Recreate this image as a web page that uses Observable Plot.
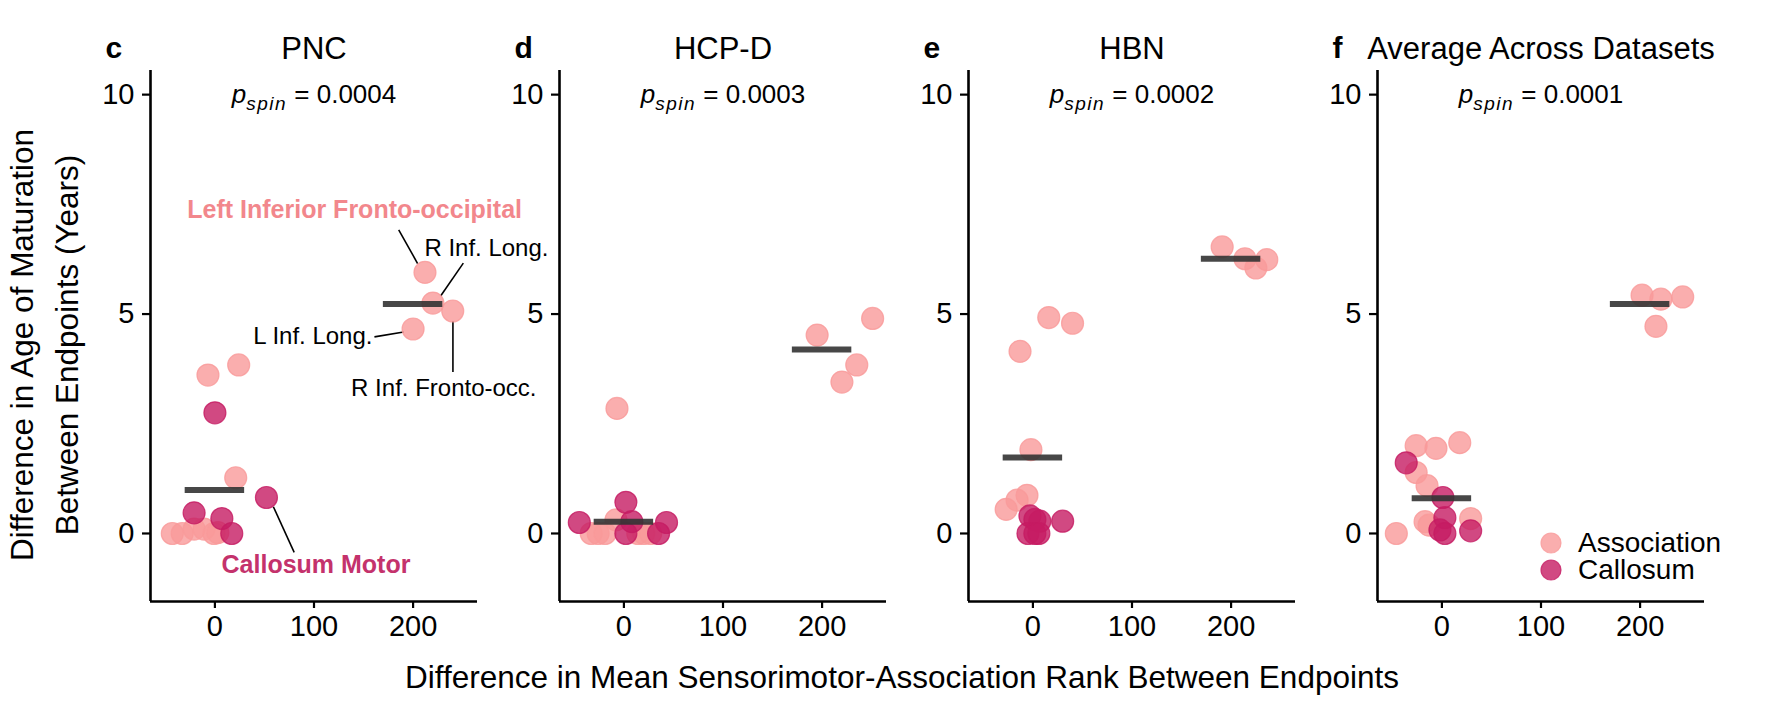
<!DOCTYPE html>
<html><head><meta charset="utf-8">
<script src="https://cdn.jsdelivr.net/npm/d3@7"></script>
<script src="https://cdn.jsdelivr.net/npm/@observablehq/plot@0.6"></script>
<style>
body{margin:0;background:#fff;}
#wrap{position:relative;width:1772px;height:709px;overflow:hidden;font-family:"Liberation Sans",Arial,Helvetica,sans-serif;color:#000;}
#wrap svg.panel{position:absolute;top:0;overflow:visible;}
#wrap g[aria-label^="x-axis"] path,#wrap g[aria-label^="x-axis"] line,
#wrap g[aria-label^="y-axis"] path,#wrap g[aria-label^="y-axis"] line{stroke-width:2.2px;}
.xtitle{position:absolute;left:302px;width:1200px;top:662px;text-align:center;font-size:31.5px;line-height:31.5px;white-space:nowrap;}
.ytitle{position:absolute;left:-255px;top:300px;width:600px;height:90px;line-height:45px;text-align:center;font-size:31.5px;transform:rotate(-90deg);white-space:nowrap;}
.legend{position:absolute;left:1540px;top:529px;font-size:28px;}
.legend .row{display:flex;align-items:center;height:27px;}
.legend .row span{display:inline-block;height:27px;line-height:27px;margin-left:16px;white-space:nowrap;}
</style></head>
<body><div id="wrap"></div>
<script>
// ---------- data ----------
const datasets = ["PNC", "HCP-D", "HBN", "Average Across Datasets"];
const panelLetters = ["c", "d", "e", "f"];
const pSpinValues = ["0.0004", "0.0003", "0.0002", "0.0001"];
const tractTypes = ["Association", "Callosum"];
const typeColors = ["#F99A9A", "#C51B63"];
const xTickValues = [0, 100, 200];
const yTickValues = [0, 5, 10];
const xAxisTitle = "Difference in Mean Sensorimotor-Association Rank Between Endpoints";
const yAxisTitle = ["Difference in Age of Maturation", "Between Endpoints (Years)"];

// [difference in S-A rank, difference in age of maturation]
const pncAssociation = [[212,5.95],[220,5.25],[240,5.07],[200,4.66],[-7,3.61],[24,3.84],[21,1.27],[-43,0],[-33,0],[-21,0.1],[-11,0.1],[-1,0],[3,0.02]];
const pncCallosum = [[0,2.75],[52,0.82],[-21,0.47],[7,0.34],[17,0]];
const pncMeans = [[0,0.99],[200,5.23]];

const hcpdAssociation = [[195,4.52],[251,4.9],[235,3.84],[220,3.45],[-7,2.85],[-8,0.31],[-33,0],[-26,0],[-19,0],[14,0],[20,0],[27,0]];
const hcpdCallosum = [[2,0.71],[-45,0.25],[43,0.25],[8,0.27],[2,0],[35,0]];
const hcpdMeans = [[0,0.27],[200,4.19]];

const hbnAssociation = [[191,6.53],[214,6.26],[225,6.05],[236,6.24],[16,4.92],[40,4.79],[-13,4.15],[-2,1.91],[-6,0.87],[-16,0.76],[-27,0.55]];
const hbnCallosum = [[-3,0.4],[7,0.28],[30,0.28],[2,0.32],[-5,0],[2,0],[6,0]];
const hbnMeans = [[0,1.73],[200,6.26]];

const avgAssociation = [[202,5.43],[221,5.34],[243,5.39],[216,4.72],[-26,2.0],[-6,1.94],[18,2.07],[-26,1.39],[-15,1.09],[-17,0.27],[-13,0.19],[29,0.34],[-46,0]];
const avgCallosum = [[-36,1.61],[1,0.82],[3,0.36],[-2,0.08],[3,0],[29,0.06]];
const avgMeans = [[0,0.8],[200,5.23]];

// PNC annotations (label anchor in data units) and leader lines [x1,y1,x2,y2]
const pncLabels = [
  {text: "Left Inferior Fronto-occipital", x: 141, y: 7.37, kind: "assoc"},
  {text: "R Inf. Long.", x: 274, y: 6.5, kind: "plain"},
  {text: "L Inf. Long.", x: 159, y: 4.5, kind: "plainEnd"},
  {text: "R Inf. Fronto-occ.", x: 231, y: 3.3, kind: "plain"},
  {text: "Callosum Motor", x: 102, y: -0.72, kind: "callosum"}
];
const pncLeaders = [[185.5,6.92,204.6,6.15],[250.7,6.16,227.8,5.41],[161,4.48,190.5,4.59],[240.2,4.84,240.2,3.68],[59,0.61,80,-0.43]];

const associationByPanel = [pncAssociation, hcpdAssociation, hbnAssociation, avgAssociation];
const callosumByPanel = [pncCallosum, hcpdCallosum, hbnCallosum, avgCallosum];
const meansByPanel = [pncMeans, hcpdMeans, hbnMeans, avgMeans];
const labelsByPanel = [pncLabels, [], [], []];
const leadersByPanel = [pncLeaders, [], [], []];

// ---------- layout ----------
const xDomain = [-65, 265];
const yDomain = [-1.55, 10.55];
const panelLefts = [150, 559, 968, 1377];
const panelWidth = 327;
const ML = 80, MR = 80, MT = 70, MB = 108, H = 709;
const font = '"Liberation Sans", Arial, Helvetica, sans-serif';
const meanHalfWidth = 30;

const labelStyles = {
  assoc: {fill: "#F2878C", fontWeight: "bold", fontSize: 25, textAnchor: "middle"},
  callosum: {fill: "#C4326C", fontWeight: "bold", fontSize: 25, textAnchor: "middle"},
  plain: {fill: "#000", fontWeight: "normal", fontSize: 24, textAnchor: "middle"},
  plainEnd: {fill: "#000", fontWeight: "normal", fontSize: 24, textAnchor: "end"}
};

const wrap = document.getElementById("wrap");

datasets.forEach((name, i) => {
  const pts = [
    ...associationByPanel[i].map(([x, y]) => ({x, y, type: tractTypes[0]})),
    ...callosumByPanel[i].map(([x, y]) => ({x, y, type: tractTypes[1]}))
  ];
  const labelMarks = labelsByPanel[i].map(l => Plot.text([l], {x: "x", y: "y", text: "text", ...labelStyles[l.kind]}));
  const svg = Plot.plot({
    width: ML + panelWidth + MR,
    height: H,
    marginLeft: ML, marginRight: MR, marginTop: MT, marginBottom: MB,
    x: {domain: xDomain, ticks: xTickValues, tickSize: 7, tickPadding: 7, label: null},
    y: {domain: yDomain, ticks: yTickValues, tickSize: 8, tickPadding: 8, label: null},
    color: {domain: tractTypes, range: typeColors},
    style: {fontSize: "29px", fontFamily: font, background: "transparent", overflow: "visible", color: "#000"},
    marks: [
      Plot.ruleX([xDomain[0]], {stroke: "#000", strokeWidth: 2.6}),
      Plot.ruleY([yDomain[0]], {stroke: "#000", strokeWidth: 2.6}),
      Plot.link(leadersByPanel[i], {x1: d => d[0], y1: d => d[1], x2: d => d[2], y2: d => d[3], stroke: "#000", strokeWidth: 1.6}),
      Plot.dot(pts, {x: "x", y: "y", r: 11, fill: "type", stroke: "type", fillOpacity: 0.8, strokeOpacity: 0.8, strokeWidth: 1.2}),
      Plot.ruleY(meansByPanel[i], {x1: d => d[0] - meanHalfWidth, x2: d => d[0] + meanHalfWidth, y: d => d[1], stroke: "#333", strokeWidth: 6, strokeOpacity: 0.9}),
      Plot.text([pSpinValues[i]], {x: 100, y: 10, text: d => "p_spin = " + d, fontSize: 26, fill: "#000"}),
      ...labelMarks,
      Plot.text([name], {frameAnchor: "top", dy: -34, text: d => d, fontSize: 31, fill: "#000"}),
      Plot.text([panelLetters[i]], {frameAnchor: "top-left", dx: -45, dy: -34, text: d => d, textAnchor: "start", fontSize: 30, fontWeight: "bold", fill: "#000"})
    ]
  });
  svg.classList.add("panel");
  svg.style.left = (panelLefts[i] - ML) + "px";
  // rich text for p_spin
  d3.select(svg).selectAll("text").filter(function () { return this.textContent.startsWith("p_spin = "); })
    .each(function () {
      const val = this.textContent.replace("p_spin = ", "");
      const t = d3.select(this);
      t.text(null);
      t.append("tspan").attr("font-style", "italic").text("p");
      t.append("tspan").attr("font-style", "italic").attr("font-size", "19px").attr("letter-spacing", "1.5").attr("dy", "7").text("spin");
      t.append("tspan").attr("dy", "-7").text(" = " + val);
    });
  wrap.appendChild(svg);
});

// axis titles
const xt = document.createElement("div");
xt.className = "xtitle";
xt.textContent = xAxisTitle;
wrap.appendChild(xt);

const yt = document.createElement("div");
yt.className = "ytitle";
yt.innerHTML = yAxisTitle.map(s => `<div>${s}</div>`).join("");
wrap.appendChild(yt);

// legend
const lg = document.createElement("div");
lg.className = "legend";
tractTypes.forEach((t, k) => {
  const row = document.createElement("div");
  row.className = "row";
  row.innerHTML = `<svg width="22" height="22"><circle cx="11" cy="11" r="10" fill="${typeColors[k]}" fill-opacity="0.8" stroke="${typeColors[k]}" stroke-opacity="0.8" stroke-width="1.2"></circle></svg><span>${t}</span>`;
  lg.appendChild(row);
});
wrap.appendChild(lg);
</script>
</body></html>
